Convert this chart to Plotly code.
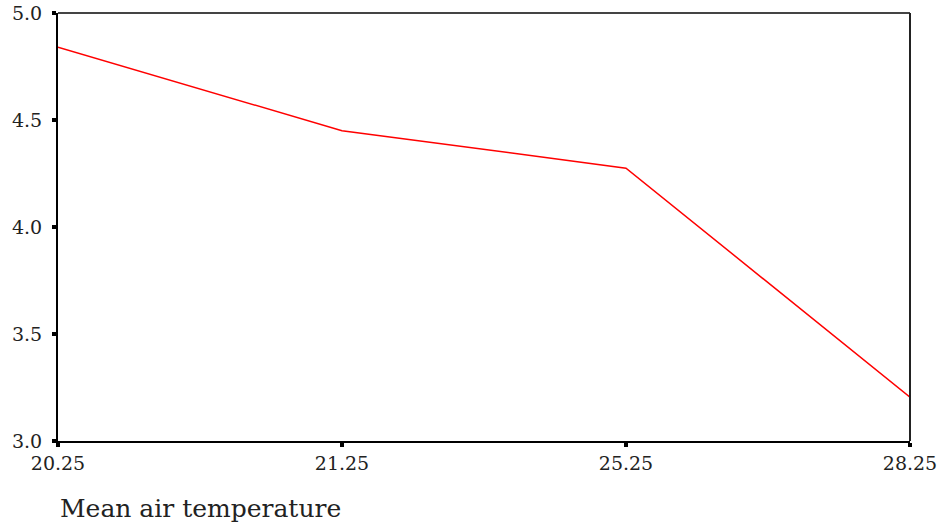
import plotly.graph_objects as go

categories = ["20.25", "21.25", "25.25", "28.25"]
values = [4.84, 4.45, 4.275, 3.205]
y_ticks = [3.0, 3.5, 4.0, 4.5, 5.0]
x_title = "Mean air temperature"

fig = go.Figure()
fig.add_trace(go.Scatter(x=categories, y=values, mode="lines",
                         line=dict(color="#ff0000", width=1.5), showlegend=False))

family = "DejaVu Serif, Liberation Serif, serif"
font = dict(family=family, size=19, color="#222")
fig.update_layout(
    width=942, height=522,
    margin=dict(l=58, r=32, t=13, b=81),
    paper_bgcolor="white", plot_bgcolor="white",
    font=font,
    xaxis=dict(type="category", range=[0, 3], showline=True, linecolor="black", linewidth=2,
               mirror=False, ticks="outside", ticklen=4, tickwidth=4, tickcolor="black",
               showgrid=False, zeroline=False, tickfont=font, automargin=False),
    yaxis=dict(range=[3.0, 5.0], tickvals=y_ticks, ticktext=[f"{v:.1f}" for v in y_ticks],
               showline=True, linecolor="black", linewidth=2, mirror=False,
               ticks="outside", ticklen=4, tickwidth=4, tickcolor="black",
               ticklabelstandoff=6,
               showgrid=False, zeroline=False, tickfont=font, automargin=False),
    shapes=[
        dict(type="line", xref="paper", yref="paper", x0=0, x1=1, y0=1, y1=1,
             line=dict(color="#444", width=2)),
        dict(type="line", xref="paper", yref="paper", x0=1, x1=1, y0=0, y1=1,
             line=dict(color="#222", width=2)),
    ],
    annotations=[dict(text=x_title, xref="paper", yref="paper", x=0, y=-0.157,
                      xanchor="left", yanchor="middle", showarrow=False,
                      font=dict(family=family, size=25, color="#222"))],
)
fig.write_html("out.html", config={"displayModeBar": False},
               post_script="document.body.style.margin='0px';document.body.style.overflow='hidden';")
